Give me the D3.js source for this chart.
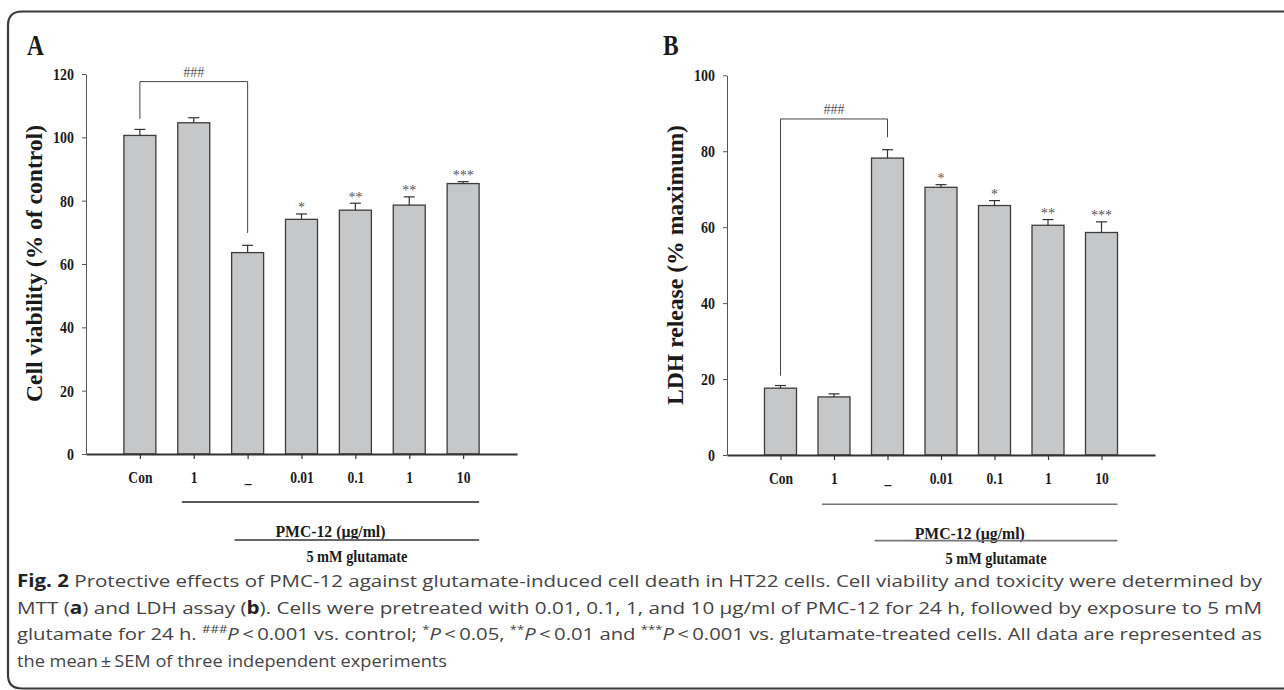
<!DOCTYPE html>
<html>
<head>
<meta charset="utf-8">
<script src="https://cdn.jsdelivr.net/npm/d3@7"></script>
<style>
  body { margin: 0; background: #fff; }
  svg { display: block; }
</style>
</head>
<body>
<script>
// x categories, shared by both panels
var categories = ["Con", "1", "_", "0.01", "0.1", "1", "10"];

// A: MTT cell viability (% of control)
var viabilityMean = [100.6, 104.6, 63.6, 74.1, 77.0, 78.6, 85.4];
var viabilityErr = [1.9, 1.6, 2.3, 1.7, 2.2, 2.6, 0.6];
var viabilityStars = ["", "", "", "*", "**", "**", "***"];
var viabilityTicks = [0, 20, 40, 60, 80, 100, 120];
// ### bracket: from, to, top, left leg end, right leg end (data units)
var viabilityBracket = [0, 2, 117.6, 105.8, 69.8];

// B: LDH release (% maximum)
var ldhMean = [17.6, 15.3, 78.2, 70.5, 65.7, 60.5, 58.6];
var ldhErr = [0.7, 0.8, 2.2, 0.7, 1.3, 1.5, 2.8];
var ldhStars = ["", "", "", "*", "*", "**", "***"];
var ldhTicks = [0, 20, 40, 60, 80, 100];
var ldhBracket = [0, 2, 88.5, 20.9, 83.7];

var serif = "'Liberation Serif', 'Times New Roman', serif";

var svg = d3.select("body")
  .append("svg")
  .attr("width", 1284)
  .attr("height", 690);

// frame round the figure
svg.append("path")
  .attr("d", "M1290,11.5 H22 Q8,11.5 8,25.5 V675 Q8,688.5 22,688.5 H1290")
  .attr("fill", "none")
  .attr("stroke", "#3a3a3a")
  .attr("stroke-width", 2.2);

// narrow the bold Times glyphs like the original
function squeeze(sel, k) {
  sel.each(function() {
    var w = this.getComputedTextLength();
    d3.select(this)
      .attr("textLength", w * k)
      .attr("lengthAdjust", "spacingAndGlyphs");
  });
}

function drawPanel(p) {
  var g = svg.append("g");

  var x = d3.scalePoint()
    .domain(d3.range(categories.length))
    .range(p.xRange)
    .padding(1);

  var y = d3.scaleLinear()
    .domain([0, p.max])
    .range(p.yRange);

  // panel letter
  g.append("text")
    .attr("x", p.letterX)
    .attr("y", 55)
    .attr("font-family", serif)
    .attr("font-weight", "bold")
    .attr("font-size", 30)
    .attr("fill", "#1a1a1a")
    .text(p.letter)
    .call(squeeze, 0.78);

  // bars
  g.selectAll("rect.bar")
    .data(p.mean)
    .enter()
    .append("rect")
    .attr("class", "bar")
    .attr("x", (d, i) => x(i) - 16)
    .attr("width", 32)
    .attr("y", d => y(d))
    .attr("height", d => y(0) - y(d))
    .attr("fill", "#c6c7c9")
    .attr("stroke", "#3c3c3c")
    .attr("stroke-width", 1.3);

  // error bars (upper half only)
  var err = g.selectAll("g.err")
    .data(p.mean)
    .enter()
    .append("g")
    .attr("class", "err")
    .attr("stroke", "#333")
    .attr("stroke-width", 1.2);

  err.append("line")
    .attr("x1", (d, i) => x(i))
    .attr("x2", (d, i) => x(i))
    .attr("y1", d => y(d))
    .attr("y2", (d, i) => y(d + p.err[i]));

  err.append("line")
    .attr("x1", (d, i) => x(i) - 5.5)
    .attr("x2", (d, i) => x(i) + 5.5)
    .attr("y1", (d, i) => y(d + p.err[i]))
    .attr("y2", (d, i) => y(d + p.err[i]));

  // significance stars
  g.selectAll("text.star")
    .data(p.stars)
    .enter()
    .append("text")
    .attr("class", "star")
    .attr("x", (d, i) => x(i))
    .attr("y", (d, i) => y(p.mean[i] + p.err[i]) - 1.5)
    .attr("text-anchor", "middle")
    .attr("font-family", serif)
    .attr("font-size", 14)
    .attr("fill", "#555")
    .text(d => d);

  // ### bracket
  var b = p.bracket;
  g.append("path")
    .attr("d", "M" + x(b[0]) + "," + y(b[3]) +
      "V" + y(b[2]) + "H" + x(b[1]) + "V" + y(b[4]))
    .attr("fill", "none")
    .attr("stroke", "#444")
    .attr("stroke-width", 1);

  g.append("text")
    .attr("x", (x(b[0]) + x(b[1])) / 2)
    .attr("y", y(b[2]) - 5)
    .attr("text-anchor", "middle")
    .attr("font-family", serif)
    .attr("font-size", 14)
    .attr("fill", "#555")
    .text("###");

  // axes
  var xAxis = g.append("g")
    .attr("transform", "translate(0," + y(0) + ")")
    .call(d3.axisBottom(x)
      .tickFormat(i => categories[i])
      .tickSize(5)
      .tickSizeOuter(0)
      .tickPadding(12.6));

  xAxis.select(".domain").attr("stroke", "#333").attr("stroke-width", 2);
  xAxis.selectAll(".tick line").attr("stroke", "#333").attr("stroke-width", 1.2);
  xAxis.selectAll(".tick text")
    .attr("font-family", serif)
    .attr("font-weight", "bold")
    .attr("font-size", 16.5)
    .attr("fill", "#1a1a1a")
    .call(squeeze, 0.82);

  var yAxis = g.append("g")
    .attr("transform", "translate(" + p.xRange[0] + ",0)")
    .call(d3.axisLeft(y)
      .tickValues(p.ticks)
      .tickSize(4)
      .tickSizeOuter(0)
      .tickPadding(8));

  yAxis.select(".domain").attr("stroke", "#555").attr("stroke-width", 1);
  yAxis.selectAll(".tick line").attr("stroke", "#555");
  yAxis.selectAll(".tick text")
    .attr("font-family", serif)
    .attr("font-weight", "bold")
    .attr("font-size", 17)
    .attr("fill", "#1a1a1a")
    .call(squeeze, 0.82);

  // y title
  g.append("text")
    .attr("transform", "translate(" + p.titleX + "," + p.titleY + ") rotate(-90)")
    .attr("text-anchor", "middle")
    .attr("font-family", serif)
    .attr("font-weight", "bold")
    .attr("font-size", 23)
    .attr("fill", "#1a1a1a")
    .attr("textLength", p.titleLen)
    .attr("lengthAdjust", "spacingAndGlyphs")
    .text(p.title);

  // treatment group lines under the axis
  var l1 = [x(1) - 12, x(6) + 16];
  var l2 = [x(2) - 13, x(6) + 16];

  g.append("line")
    .attr("x1", l1[0]).attr("x2", l1[1])
    .attr("y1", p.groupY[0]).attr("y2", p.groupY[0])
    .attr("stroke", p.lineColor[0]).attr("stroke-width", 1.6);

  g.append("text")
    .attr("x", (l1[0] + l1[1]) / 2)
    .attr("y", p.groupY[1])
    .attr("text-anchor", "middle")
    .attr("font-family", serif)
    .attr("font-weight", "bold")
    .attr("font-size", 16)
    .attr("fill", "#1a1a1a")
    .attr("textLength", 110)
    .attr("lengthAdjust", "spacingAndGlyphs")
    .text("PMC-12 (\u00b5g/ml)");

  g.append("line")
    .attr("x1", l2[0]).attr("x2", l2[1])
    .attr("y1", p.groupY[2]).attr("y2", p.groupY[2])
    .attr("stroke", p.lineColor[1]).attr("stroke-width", 1.8);

  g.append("text")
    .attr("x", (l2[0] + l2[1]) / 2)
    .attr("y", p.groupY[3])
    .attr("text-anchor", "middle")
    .attr("font-family", serif)
    .attr("font-weight", "bold")
    .attr("font-size", 16)
    .attr("fill", "#1a1a1a")
    .attr("textLength", 101)
    .attr("lengthAdjust", "spacingAndGlyphs")
    .text("5 mM glutamate");
}

drawPanel({
  letter: "A", letterX: 27,
  mean: viabilityMean, err: viabilityErr, stars: viabilityStars,
  ticks: viabilityTicks, bracket: viabilityBracket, max: 120,
  xRange: [86, 517], yRange: [454, 74],
  title: "Cell viability (% of control)", titleX: 42, titleY: 263.5, titleLen: 277,
  groupY: [502, 537, 540, 562], lineColor: ["#222", "#666"]
});

drawPanel({
  letter: "B", letterX: 663,
  mean: ldhMean, err: ldhErr, stars: ldhStars,
  ticks: ldhTicks, bracket: ldhBracket, max: 100,
  xRange: [727, 1155], yRange: [455, 75.3],
  title: "LDH release (% maximum)", titleX: 683, titleY: 265, titleLen: 280,
  groupY: [504.3, 539.3, 540.7, 564.3], lineColor: ["#777", "#777"]
});

// caption, one entry per printed line; [text, style]
var captionLines = [
  [["Fig. 2", "b"], [" Protective effects of PMC-12 against glutamate-induced cell death in HT22 cells. Cell viability and toxicity were determined by", ""]],
  [["MTT (", ""], ["a", "b"], [") and LDH assay (", ""], ["b", "b"], ["). Cells were pretreated with 0.01, 0.1, 1, and 10 \u00b5g/ml of PMC-12 for 24 h, followed by exposure to 5 mM", ""]],
  [["glutamate for 24 h. ", ""], ["###", "sup"], ["P", "i"], ["\u2009<\u20090.001 vs. control; ", ""], ["*", "sup"], ["P", "i"], ["\u2009<\u20090.05, ", ""],
   ["**", "sup"], ["P", "i"], ["\u2009<\u20090.01 and ", ""], ["***", "sup"], ["P", "i"], ["\u2009<\u20090.001 vs. glutamate-treated cells. All data are represented as", ""]],
  [["the mean\u2009\u00b1\u2009SEM of three independent experiments", ""]]
];
var captionWidth = [1245, 1245, 1245, 430];

var caption = svg.append("g")
  .attr("font-family", "'Open Sans', 'Noto Sans', sans-serif")
  .attr("font-size", 17)
  .attr("fill", "#444");

captionLines.forEach(function(line, li) {
  var t = caption.append("text")
    .attr("x", 17)
    .attr("y", 587 + li * 26.5)
    .attr("textLength", captionWidth[li])
    .attr("lengthAdjust", "spacingAndGlyphs");

  line.forEach(function(seg) {
    var s = t.append("tspan").text(seg[0]);
    if (seg[1] === "b") s.attr("font-weight", "bold").attr("fill", "#222");
    if (seg[1] === "i") s.attr("font-style", "italic");
    if (seg[1] === "sup") s.attr("font-size", 11).attr("baseline-shift", "super");
  });
});
</script>
</body>
</html>
